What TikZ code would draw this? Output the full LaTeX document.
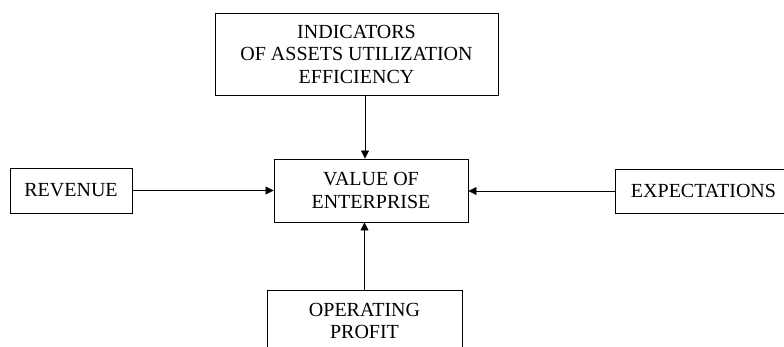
\documentclass[tikz,border=0pt]{standalone}
\usepackage{fontspec}
\setmainfont{Liberation Serif}
\usetikzlibrary{arrows.meta,positioning}

\begin{document}
\begin{tikzpicture}[
    x=1pt, y=-1pt,
    box/.style={draw, line width=0.9pt, inner sep=0pt, align=center,
                font=\fontsize{20}{22.5}\selectfont},
    link/.style={-{Triangle[length=8pt,width=8pt]}, line width=0.8pt}
]
    \useasboundingbox (0,0) rectangle (784,346);
    \clip (0,0) rectangle (784,346);

    % factors around the central box
    \node[box, minimum width=283pt, minimum height=82pt] (ind) at (356.5,54) {INDICATORS\\OF ASSETS UTILIZATION\\EFFICIENCY};
    \node[box, minimum width=194pt, minimum height=63pt] (val) at (371,190.5) {VALUE OF\\ENTERPRISE};
    \node[box, minimum width=122pt, minimum height=45pt] (rev) at (71,190.5) {REVENUE};
    \node[box, minimum width=177pt, minimum height=44pt] (exp) at (703.5,191) {EXPECTATIONS};
    \node[box, minimum width=195pt, minimum height=62pt] (op) at (364.5,321) {OPERATING\\PROFIT};

    % arrows into the value
    \draw[link] ([xshift=8.5pt]ind.south) -- ([xshift=-6pt]val.north);
    \draw[link] (rev.east) -- (rev.east -| val.west);
    \draw[link] (exp.west) -- (exp.west -| val.east);
    \draw[link] (op.north) -- (op.north |- val.south);
\end{tikzpicture}
\end{document}
